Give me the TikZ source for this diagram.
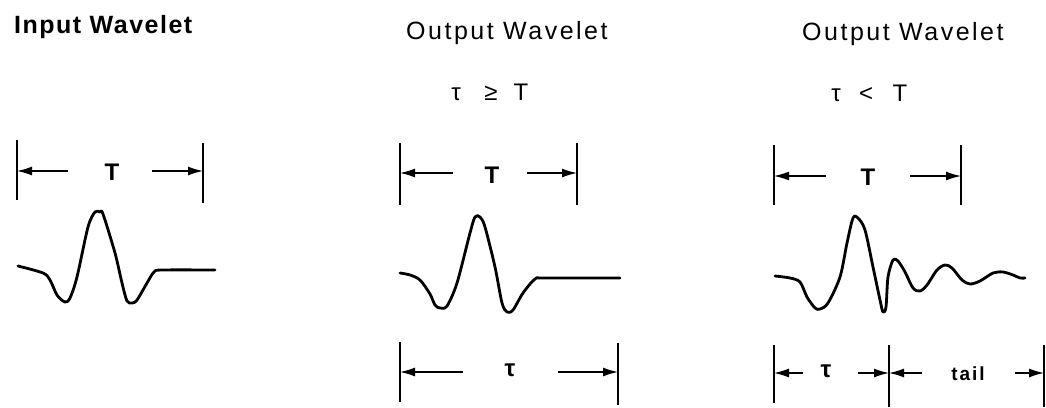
\documentclass[tikz,border=0pt]{standalone}
\usepackage{fontspec}
\setmainfont{Liberation Sans}
\newfontfamily\ttlfont[LetterSpace=10]{Liberation Sans}
\newfontfamily\ttlbfont[LetterSpace=6,BoldFont={Liberation Sans Bold}]{Liberation Sans}
\newfontfamily\tailfont[LetterSpace=10,BoldFont={Liberation Sans Bold}]{Liberation Sans}
\usetikzlibrary{arrows.meta}
\begin{document}
\begin{tikzpicture}[x=1pt,y=-1pt,
  title/.style={anchor=base west,inner sep=0pt,font=\ttlfont\fontsize{25}{28}\selectfont},
  ititle/.style={anchor=base west,inner sep=0pt,font=\ttlbfont\bfseries\fontsize{25}{28}\selectfont},
  rel/.style={anchor=base,inner sep=0pt,font=\fontsize{24}{27}\selectfont},
  dimlbl/.style={inner sep=0pt,font=\bfseries\fontsize{24}{27}\selectfont},
  taillbl/.style={inner sep=0pt,font=\tailfont\bfseries\fontsize{19}{22}\selectfont},
  tick/.style={line width=2pt},
  dimarrow/.style={line width=1.3pt,-{Latex[length=15pt,width=9pt]}},
  wave/.style={line width=2.8pt,line cap=round,line join=round},
]
\useasboundingbox (0,0) rectangle (1046,407);

% ---------- titles ----------
\node[ititle] (t1) at (14,33) {Input Wavelet};
\node[title] (t2) at (406,39) {Output Wavelet};
\node[title] (t3) at (802,40) {Output Wavelet};

\node[rel] (r2a) at (456,100) {τ};
\node[rel] (r2b) at (491,100) {≥};
\node[rel] (r2c) at (521,100) {T};
\node[rel] (r3a) at (836,101) {τ};
\node[rel] (r3b) at (866,101) {<};
\node[rel] (r3c) at (900,101) {T};

% ---------- panel 1 dimension ----------
\coordinate (p1lt) at (17,140); \coordinate (p1lb) at (17,200);
\coordinate (p1rt) at (203,143); \coordinate (p1rb) at (203,203);
\coordinate (p1l) at (17,171); \coordinate (p1r) at (203,171);
\coordinate (p1la) at (68,171); \coordinate (p1ra) at (152,171);
\draw[tick] (p1lt) -- (p1lb);
\draw[tick] (p1rt) -- (p1rb);
\draw[dimarrow] (p1la) -- (p1l);
\draw[dimarrow] (p1ra) -- (p1r);
\node[dimlbl] (T1) at (112,172) {T};

% ---------- panel 2 dimensions ----------
\coordinate (p2lt) at (400,143); \coordinate (p2lb) at (400,205);
\coordinate (p2rt) at (577,143); \coordinate (p2rb) at (577,205);
\coordinate (p2l) at (400,173); \coordinate (p2r) at (577,173);
\coordinate (p2la) at (453,173); \coordinate (p2ra) at (527,173);
\draw[tick] (p2lt) -- (p2lb);
\draw[tick] (p2rt) -- (p2rb);
\draw[dimarrow] (p2la) -- (p2l);
\draw[dimarrow] (p2ra) -- (p2r);
\node[dimlbl] (T2) at (492,175) {T};

\coordinate (q2lt) at (400,342); \coordinate (q2lb) at (400,402);
\coordinate (q2rt) at (618,343); \coordinate (q2rb) at (618,405);
\coordinate (q2l) at (400,372); \coordinate (q2r) at (618,372);
\coordinate (q2la) at (463,372); \coordinate (q2ra) at (558,372);
\draw[tick] (q2lt) -- (q2lb);
\draw[tick] (q2rt) -- (q2rb);
\draw[dimarrow] (q2la) -- (q2l);
\draw[dimarrow] (q2ra) -- (q2r);
\node[dimlbl] (tau2) at (510,370) {τ};

% ---------- panel 3 dimensions ----------
\coordinate (p3lt) at (774,145); \coordinate (p3lb) at (774,205);
\coordinate (p3rt) at (961,145); \coordinate (p3rb) at (961,205);
\coordinate (p3l) at (774,176); \coordinate (p3r) at (961,176);
\coordinate (p3la) at (826,176); \coordinate (p3ra) at (910,176);
\draw[tick] (p3lt) -- (p3lb);
\draw[tick] (p3rt) -- (p3rb);
\draw[dimarrow] (p3la) -- (p3l);
\draw[dimarrow] (p3ra) -- (p3r);
\node[dimlbl] (T3) at (868,177) {T};

\coordinate (q3lt) at (774,345); \coordinate (q3lb) at (774,403);
\coordinate (q3mt) at (889,345); \coordinate (q3mb) at (889,407);
\coordinate (q3rt) at (1044,345); \coordinate (q3rb) at (1044,407);
\coordinate (q3l) at (774,373); \coordinate (q3m) at (889,373); \coordinate (q3r) at (1044,373);
\coordinate (q3la) at (803,373); \coordinate (q3ma) at (858,373);
\coordinate (q3mb2) at (922,373); \coordinate (q3ra) at (1015,373);
\draw[tick] (q3lt) -- (q3lb);
\draw[tick] (q3mt) -- (q3mb);
\draw[tick] (q3rt) -- (q3rb);
\draw[dimarrow] (q3la) -- (q3l);
\draw[dimarrow] (q3ma) -- (q3m);
\draw[dimarrow] (q3mb2) -- (q3m);
\draw[dimarrow] (q3ra) -- (q3r);
\node[dimlbl] (tau3) at (826,371) {τ};
\node[taillbl] (tail) at (968,374) {tail};

% ---------- wavelets ----------
\draw[wave] plot[smooth,tension=0.5] coordinates {
 (18,266) (43,273) (50,280) (57,295) (65,302) (70,298) (77,277) (88,227) (95,212) (100,212)
 (103,214) (115,253) (122,283) (127,301) (132,303) (137,300) (147,283) (154,272) (162,270) (215,270)};

\draw[wave] plot[smooth,tension=0.5] coordinates {
 (400,273) (410,275) (420,280) (430,294) (435,305) (440,308) (447,306) (457,283) (470,233) (475,217)
 (480,217) (485,227) (495,267) (502,303) (507,312) (513,310) (523,293) (535,279) (545,278) (620,278)};

\draw[wave] plot[smooth,tension=0.5] coordinates {
 (775,276) (790,278) (800,282) (807,297) (815,308) (820,309) (828,303) (840,277) (847,243) (853,218)
 (858,218) (865,230) (873,267) (880,300) (883,312) (886,307) (888,277) (893,260) (898,261) (905,272)
 (913,288) (920,291) (927,285) (937,270) (945,265) (952,268) (962,280) (970,284) (980,281) (993,273)
 (1003,272) (1013,275) (1020,278) (1025,278)};

\end{tikzpicture}
\end{document}
